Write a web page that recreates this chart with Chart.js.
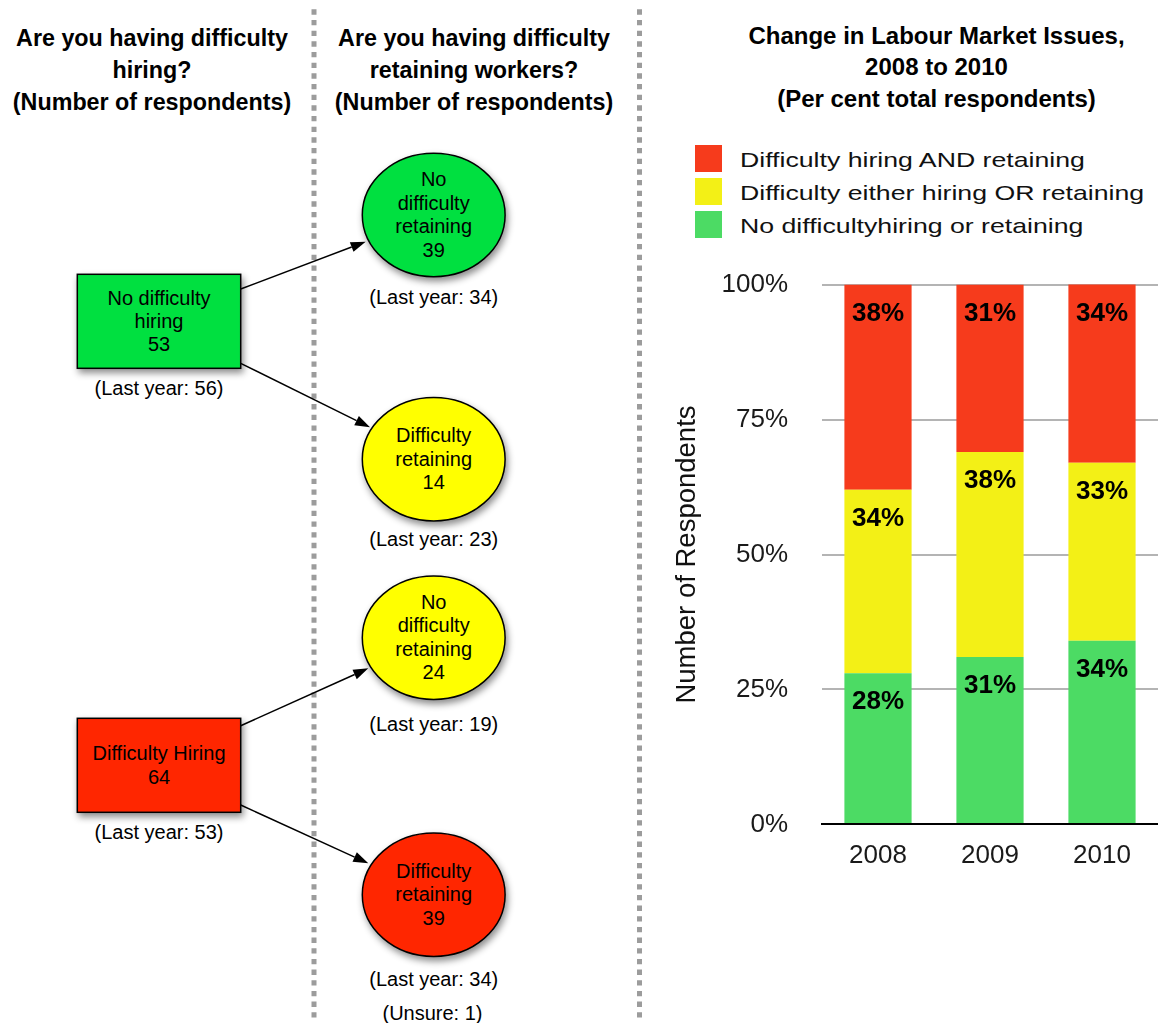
<!DOCTYPE html>
<html>
<head>
<meta charset="utf-8">
<title>Labour Market Issues</title>
<script src="https://cdn.jsdelivr.net/npm/chart.js@4.4.1/dist/chart.umd.min.js"></script>
<style>
  html, body { margin: 0; padding: 0; background: #fff; }
  #page { position: relative; width: 1158px; height: 1023px; overflow: hidden;
          font-family: "Liberation Sans", Helvetica, Arial, sans-serif; }
  #diagram { position: absolute; left: 0; top: 0; }
  #chartBox { position: absolute; left: 660px; top: 235px; width: 498px; height: 639px; }
</style>
</head>
<body>
<div id="page">
  <svg id="diagram" width="1158" height="1023" xmlns="http://www.w3.org/2000/svg"></svg>
  <div id="chartBox"><canvas id="chart" width="498" height="639"></canvas></div>
</div>
<script>
// ---- Survey results: stacked shares by year (per cent of respondents) ----
const years = ['2008', '2009', '2010'];
const noDifficulty = [28, 31, 34];
const eitherDifficulty = [34, 38, 33];
const bothDifficulty = [38, 31, 34];
const percentTicks = [0, 25, 50, 75, 100];
const seriesNames = [
  'No difficultyhiring or retaining',
  'Difficulty either hiring OR retaining',
  'Difficulty hiring AND retaining'
];

// ---- Hiring / retaining flow (number of respondents) ----
const hiringLabels = [['No difficulty', 'hiring'], ['Difficulty Hiring']];
const hiringCounts = [53, 64];
const hiringLastYear = [56, 53];
const retainingLabels = [
  ['No', 'difficulty', 'retaining'],
  ['Difficulty', 'retaining'],
  ['No', 'difficulty', 'retaining'],
  ['Difficulty', 'retaining']
];
const retainingCounts = [39, 14, 24, 39];
const retainingLastYear = [34, 23, 19, 34];
const unsureCount = 1;

const panelTitles = [
  ['Are you having difficulty', 'hiring?', '(Number of respondents)'],
  ['Are you having difficulty', 'retaining workers?', '(Number of respondents)'],
  ['Change in Labour Market Issues,', '2008 to 2010', '(Per cent total respondents)']
];

// ---- styling & layout ----
const FONT = '"Liberation Sans", Helvetica, Arial, sans-serif';
const GREEN = '#00e040', YELLOW = '#ffff00', RED = '#ff2600';
const barColors = ['#4cdb64', '#f3f016', '#f63b1c'];

const SVGNS = 'http://www.w3.org/2000/svg';
const svg = document.getElementById('diagram');
function el(tag, attrs, parent) {
  const n = document.createElementNS(SVGNS, tag);
  for (const k in attrs) n.setAttribute(k, attrs[k]);
  (parent || svg).appendChild(n);
  return n;
}
function text(str, x, y, size, opts) {
  opts = opts || {};
  const t = el('text', {
    x: x, y: y, 'font-size': size, 'font-family': FONT,
    'font-weight': opts.bold ? 'bold' : 'normal',
    'text-anchor': opts.anchor || 'middle', fill: opts.fill || '#000'
  });
  if (opts.transform) t.setAttribute('transform', opts.transform);
  t.textContent = str;
  return t;
}

// soft drop shadow for the nodes
const defs = el('defs', {});
const filt = el('filter', { id: 'shadow', x: '-20%', y: '-20%', width: '150%', height: '160%' }, defs);
el('feDropShadow', { dx: 2, dy: 4, stdDeviation: 3.5, 'flood-color': '#000', 'flood-opacity': 0.45 }, filt);

// dotted panel dividers
[314, 639.5].forEach(x => {
  el('line', { x1: x, y1: 9.3, x2: x, y2: 1023, stroke: '#9c9c9c', 'stroke-width': 5,
               'stroke-dasharray': '5.33 5.34' });
});

// panel titles
const titleCenters = [152, 474, 936.5];
const titleSizes = [23.3, 23.3, 24];
const titleBaselines = [[45.5, 77.7, 109.9], [45.5, 77.7, 109.9], [43.5, 75.2, 106.9]];
panelTitles.forEach((lines, p) => {
  lines.forEach((ln, i) => text(ln, titleCenters[p], titleBaselines[p][i], titleSizes[p], { bold: true }));
});

// multi-line label centred on (cx, cy)
const LINE = 23.4, CAP_OFF = 7.2;
function block(lines, cx, cy) {
  const first = cy - (lines.length - 1) * LINE / 2;
  lines.forEach((ln, i) => text(ln, cx, first + i * LINE + CAP_OFF, 20));
}

// hiring boxes
const boxLayout = [
  { x: 77.3, y: 274.3, w: 163.4, h: 94, fill: GREEN, noteY: 395.2 },
  { x: 77.3, y: 718.3, w: 163.4, h: 94, fill: RED, noteY: 838.9 }
];
boxLayout.forEach((b, i) => {
  el('rect', { x: b.x, y: b.y, width: b.w, height: b.h, fill: b.fill, stroke: '#000',
               'stroke-width': 1.5, filter: 'url(#shadow)' });
  const cx = b.x + b.w / 2;
  block(hiringLabels[i].concat([String(hiringCounts[i])]), cx, b.y + b.h / 2 - 0.6);
  text('(Last year: ' + hiringLastYear[i] + ')', cx, b.noteY, 20);
});

// retaining ellipses
const ellipseLayout = [
  { cx: 433.7, cy: 215.0, fill: GREEN, noteY: 303.7 },
  { cx: 433.7, cy: 459.3, fill: YELLOW, noteY: 546.2 },
  { cx: 433.7, cy: 637.7, fill: YELLOW, noteY: 731.2 },
  { cx: 433.7, cy: 894.7, fill: RED, noteY: 986.2 }
];
ellipseLayout.forEach((e, i) => {
  el('ellipse', { cx: e.cx, cy: e.cy, rx: 71.4, ry: 61.7, fill: e.fill, stroke: '#000',
                  'stroke-width': 1.5, filter: 'url(#shadow)' });
  block(retainingLabels[i].concat([String(retainingCounts[i])]), e.cx, e.cy - 0.8);
  text('(Last year: ' + retainingLastYear[i] + ')', e.cx, e.noteY, 20);
});
text('(Unsure: ' + unsureCount + ')', 432.5, 1019.5, 20);

// arrows from each hiring box to its two retaining outcomes
const arrowLayout = [
  [[240.7, 289.0], [365.7, 241.7]],
  [[240.7, 363.3], [370.0, 427.3]],
  [[240.7, 725.7], [368.3, 668.3]],
  [[240.7, 805.0], [368.3, 863.3]]
];
arrowLayout.forEach(([a, b]) => {
  const dx = b[0] - a[0], dy = b[1] - a[1], len = Math.hypot(dx, dy);
  const ux = dx / len, uy = dy / len, head = 15, half = 5.2;
  const bx = b[0] - ux * head, by = b[1] - uy * head;
  el('line', { x1: a[0], y1: a[1], x2: bx, y2: by, stroke: '#000', 'stroke-width': 1.5 });
  el('polygon', { points: [b[0], b[1], bx - uy * half, by + ux * half, bx + uy * half, by - ux * half].join(' '),
                  fill: '#000' });
});

// legend (top series first)
const legendRows = [2, 1, 0];
const legendBaselines = [167.3, 200.0, 232.5];
legendRows.forEach((s, r) => {
  el('rect', { x: 695, y: 145 + r * 33, width: 27, height: 27, fill: barColors[s] });
  text(seriesNames[s], 0, 0, 21, { anchor: 'start', fill: '#111',
       transform: 'translate(740,' + legendBaselines[r] + ') scale(1.27,1)' });
});

// ---- stacked bar chart ----
const barLabels = {
  id: 'barLabels',
  afterDatasetsDraw(chart) {
    const ctx = chart.ctx, top = chart.chartArea.top;
    ctx.save();
    ctx.font = 'bold 26px ' + FONT;
    ctx.fillStyle = '#000';
    ctx.textAlign = 'center';
    ctx.textBaseline = 'middle';
    chart.data.datasets.forEach((ds, i) => {
      chart.getDatasetMeta(i).data.forEach((bar, j) => {
        ctx.fillText(ds.data[j] + '%', bar.x, Math.max(bar.y, top) + 29);
      });
    });
    ctx.restore();
  }
};

new Chart(document.getElementById('chart'), {
  type: 'bar',
  data: {
    labels: years,
    datasets: [
      { label: seriesNames[0], data: noDifficulty, backgroundColor: barColors[0], clip: 0 },
      { label: seriesNames[1], data: eitherDifficulty, backgroundColor: barColors[1], clip: 0 },
      { label: seriesNames[2], data: bothDifficulty, backgroundColor: barColors[2], clip: 0 }
    ]
  },
  options: {
    responsive: false,
    animation: false,
    layout: { padding: { left: 7, top: 25, right: 0, bottom: 0 } },
    datasets: { bar: { categoryPercentage: 1, barPercentage: 0.6, borderWidth: 0 } },
    plugins: { legend: { display: false }, tooltip: { enabled: false } },
    scales: {
      x: {
        stacked: true,
        grid: { display: false, drawTicks: false },
        border: { display: true, color: '#000', width: 2, z: 1 },
        ticks: { color: '#1a1a1a', font: { family: FONT, size: 26 }, padding: 16 },
        afterFit: s => { s.height = 48; }
      },
      y: {
        stacked: true,
        min: 0,
        max: 100,
        afterBuildTicks: s => { s.ticks = percentTicks.map(v => ({ value: v })); },
        ticks: { callback: v => v + '%', color: '#1a1a1a', font: { family: FONT, size: 26 }, padding: 34 },
        grid: {
          color: c => (c.tick && c.tick.value === 0) ? 'rgba(0,0,0,0)' : '#b4b4b4',
          lineWidth: 2,
          drawTicks: false
        },
        border: { display: false },
        title: { display: true, text: 'Number of Respondents', color: '#111',
                 font: { family: FONT, size: 27.5 }, padding: { top: 4, bottom: 4 } },
        afterFit: s => { s.width = 155; }
      }
    }
  },
  plugins: [barLabels]
});
</script>
</body>
</html>
